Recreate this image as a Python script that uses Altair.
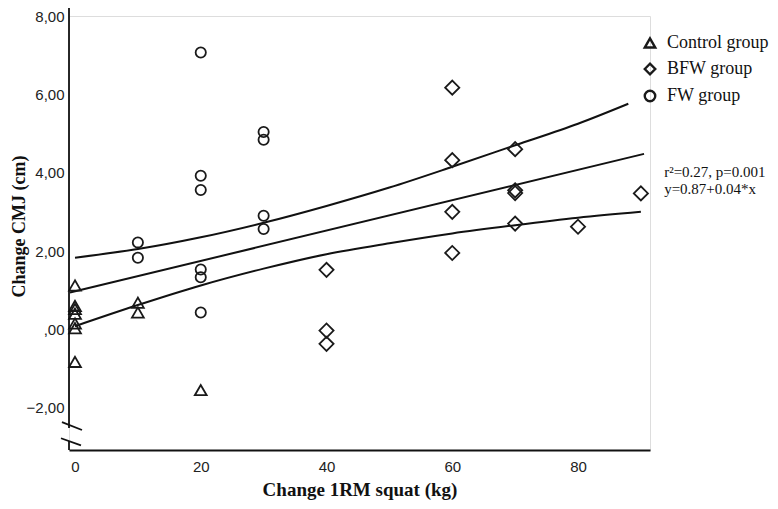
import altair as alt
import pandas as pd

# ---- data ----
groups = ["Control group", "BFW group", "FW group"]

control_x = [0, 0, 0, 0, 0, 0, 0, 10, 10, 20]
control_y = [1.12, 0.60, 0.52, 0.40, 0.15, 0.03, -0.83, 0.68, 0.43, -1.55]

bfw_x = [40, 40, 40, 60, 60, 60, 60, 70, 70, 70, 70, 80, 90]
bfw_y = [1.52, -0.03, -0.37, 6.17, 4.32, 3.00, 1.95, 4.60, 3.55, 3.48, 2.70, 2.62, 3.47]

fw_x = [10, 10, 20, 20, 20, 20, 20, 20, 30, 30, 30, 30]
fw_y = [2.22, 1.83, 7.07, 3.92, 3.56, 1.53, 1.33, 0.43, 5.04, 4.84, 2.90, 2.56]

# regression line and confidence curves
fit_x = [-0.8, 90.5]
fit_y = [0.94, 4.48]
upper_x = [0, 10, 20, 30, 40, 50, 60, 70, 80, 88]
upper_y = [1.83, 2.05, 2.35, 2.72, 3.15, 3.62, 4.15, 4.70, 5.25, 5.76]
lower_x = [0, 10, 20, 30, 40, 50, 60, 70, 80, 90]
lower_y = [0.08, 0.62, 1.12, 1.55, 1.92, 2.20, 2.45, 2.66, 2.85, 3.00]

x_ticks = [0, 20, 40, 60, 80]
y_ticks = [-2, 0, 2, 4, 6, 8]
annotation = ["r\u00b2=0.27, p=0.001", "y=0.87+0.04*x"]

X_DOM = [-0.954, 91.45]
Y_DOM = [-3.08, 8.0]

# marker size per group (style, kept apart from the data lists)
marker_size = {"Control group": 140, "BFW group": 200, "FW group": 105}

pts = pd.DataFrame(
    {"x": control_x + bfw_x + fw_x,
     "y": control_y + bfw_y + fw_y,
     "group": [groups[0]] * len(control_x) + [groups[1]] * len(bfw_x) + [groups[2]] * len(fw_x)}
)
pts["sz"] = pts["group"].map(marker_size)

curves = pd.DataFrame(
    {"x": fit_x + upper_x + lower_x,
     "y": fit_y + upper_y + lower_y,
     "curve": ["fit"] * len(fit_x) + ["upper"] * len(upper_x) + ["lower"] * len(lower_x)}
)
# y-axis line with a break, and the break marks
axis_segs = pd.DataFrame(
    {"x": [X_DOM[0], X_DOM[0], -2.07, -2.23],
     "x2": [X_DOM[0], X_DOM[0], 1.11, 0.95],
     "y": [8.3, -2.85, -2.37, -2.78],
     "y2": [-2.52, Y_DOM[0], -2.57, -2.96]}
)
ann = pd.DataFrame({"x": [93.7, 93.7], "y": [4.03, 3.59], "t": annotation})

xs = alt.Scale(domain=X_DOM, nice=False, zero=False)
ys = alt.Scale(domain=Y_DOM, nice=False, zero=False)

LABEL_FONT = "Liberation Sans Narrow, Arial Narrow, Liberation Sans, Arial"

x_enc = alt.X(
    "x:Q", scale=xs,
    axis=alt.Axis(
        values=x_ticks, format="d", ticks=False, grid=False,
        domainColor="#111", domainWidth=2,
        labelFont=LABEL_FONT, labelFontSize=15,
        labelColor="#222", labelPadding=9,
        title="Change 1RM squat (kg)", titleFont="Liberation Serif", titleFontSize=19,
        titleFontWeight="bold", titleColor="#111", titleY=30,
    ),
)
y_enc = alt.Y(
    "y:Q", scale=ys,
    axis=alt.Axis(
        values=y_ticks, ticks=False, grid=False, domain=False,
        labelExpr="datum.value == 0 ? ',00' : replace(format(datum.value, '.2f'), '.', ',')",
        labelFont=LABEL_FONT, labelFontSize=15,
        labelColor="#222", labelPadding=5,
        title="Change CMJ (cm)", titleFont="Liberation Serif", titleFontSize=18,
        titleFontWeight="bold", titleColor="#111", titleX=-45, titleY=210,
        titleBaseline="alphabetic",
    ),
)

points = alt.Chart(pts).mark_point(filled=False, strokeWidth=1.8, color="#1a1a1a", opacity=1).encode(
    x=x_enc,
    y=y_enc,
    shape=alt.Shape(
        "group:N",
        scale=alt.Scale(domain=groups, range=["triangle-up", "diamond", "circle"]),
        legend=alt.Legend(
            title=None, orient="none", legendX=572, legendY=18,
            labelFont="Liberation Serif", labelFontSize=18, labelColor="#111",
            symbolStrokeColor="#1a1a1a", symbolFillColor="transparent",
            symbolStrokeWidth=2.4, symbolSize=110, rowPadding=5, labelOffset=8,
        ),
    ),
    size=alt.Size("sz:Q", scale=None),
)

lines = alt.Chart(curves).mark_line(color="#111", strokeWidth=2, interpolate="monotone").encode(
    x=alt.X("x:Q", scale=xs), y=alt.Y("y:Q", scale=ys), detail="curve:N"
)

axis_rules = alt.Chart(axis_segs).mark_rule(color="#111", strokeWidth=1.8).encode(
    x=alt.X("x:Q", scale=xs), x2="x2:Q", y=alt.Y("y:Q", scale=ys), y2="y2:Q"
)

ann_text = alt.Chart(ann).mark_text(
    align="left", baseline="middle", font="Liberation Serif", fontSize=15, color="#111"
).encode(x=alt.X("x:Q", scale=xs), y=alt.Y("y:Q", scale=ys), text="t:N")

chart = (
    alt.layer(lines, points, axis_rules, ann_text)
    .properties(
        width=581, height=434,
        padding={"left": 61, "top": 8, "right": 120, "bottom": 51},
        autosize=alt.AutoSizeParams(type="none"),
    )
    .configure_view(stroke=None)
    .configure(background="white")
)

chart.save("out.html", embed_options={"renderer": "svg", "actions": False})
